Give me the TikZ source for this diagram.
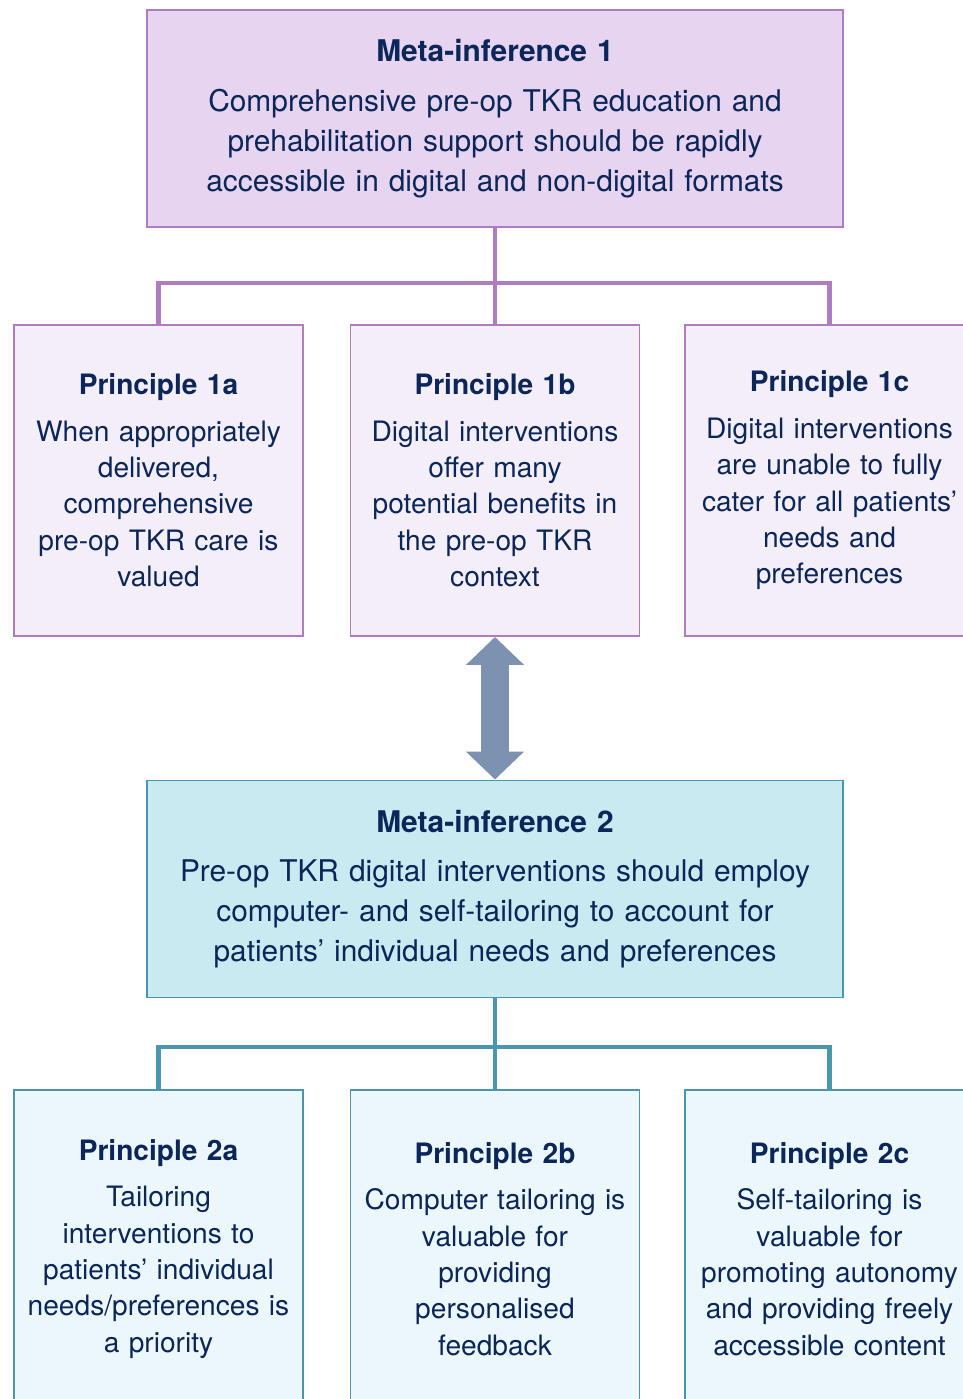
\documentclass[tikz,border=0pt]{standalone}
\usepackage{fontspec}
\setmainfont{TeX Gyre Heros}
\usepackage{xcolor}
\definecolor{navy}{HTML}{0B2659}
\definecolor{lila}{HTML}{B07CC0}
\definecolor{lilafill}{HTML}{E7D4F0}
\definecolor{lilalight}{HTML}{F4EEF9}
\definecolor{teal2}{HTML}{4A96AC}
\definecolor{tealfill}{HTML}{C8EAF0}
\definecolor{teallight}{HTML}{EBF7FA}
\definecolor{arrowc}{HTML}{7D91B1}
\usetikzlibrary{calc,positioning,arrows.meta}
\tikzset{
  meta/.style={rectangle, line width=1.1pt, text=navy, text width=13.6cm, align=center,
    minimum width=13.92cm, minimum height=4.34cm, inner sep=0pt,
    font=\fontsize{17}{22.7}\selectfont},
  meta1/.style={meta, draw=lila, fill=lilafill},
  meta2/.style={meta, draw=teal2, fill=tealfill},
  princ/.style={rectangle, line width=1.1pt, text=navy, text width=5.6cm, align=center,
    minimum width=5.78cm, inner sep=0pt, font=\fontsize{16}{20.7}\selectfont},
  princ1/.style={princ, draw=lila, fill=lilalight, minimum height=6.22cm},
  princ2/.style={princ, draw=teal2, fill=teallight, minimum height=6.36cm},
  tree1/.style={draw=lila, line width=2.4pt},
  tree2/.style={draw=teal2, line width=2.4pt},
  dbl/.style={draw=arrowc, line width=0.55cm,
    {Triangle[width=1.13cm,length=0.56cm]}-{Triangle[width=1.13cm,length=0.56cm]}},
}

\begin{document}
\begin{tikzpicture}
  \useasboundingbox (0,0) rectangle (19.24,-27.98);

  % first meta-inference and its principles
  \node[meta1] (M1) at (9.9,-2.37) {{\bfseries Meta-inference 1}\\[0.2cm]
    Comprehensive pre-op TKR education and\\ prehabilitation support should be rapidly\\
    accessible in digital and non-digital formats};
  \coordinate (j1) at (9.9,-5.66);
  \node[princ1] (P1a) at (3.17,-9.61) {{\bfseries Principle 1a}\\[0.2cm]
    When appropriately\\ delivered,\\ comprehensive\\ pre-op TKR care is\\ valued};
  \node[princ1] (P1b) at (9.9,-9.61) {{\bfseries Principle 1b}\\[0.2cm]
    Digital interventions\\ offer many\\ potential benefits in\\ the pre-op TKR\\ context};
  \node[princ1] (P1c) at (16.59,-9.61) {{\bfseries Principle 1c}\\[0.2cm]
    Digital interventions\\ are unable to fully\\ cater for all patients’\\ needs and\\ preferences};

  % second meta-inference and its principles
  \node[meta2] (M2) at (9.9,-17.78) {{\bfseries Meta-inference 2}\\[0.2cm]
    Pre-op TKR digital interventions should employ\\ computer- and self-tailoring to account for\\
    patients’ individual needs and preferences};
  \coordinate (j2) at (9.9,-20.94);
  \node[princ2] (P2a) at (3.17,-24.98) {{\bfseries Principle 2a}\\[0.2cm]
    Tailoring\\ interventions to\\ patients’ individual\\ needs/preferences is\\ a priority};
  \node[princ2] (P2b) at (9.9,-24.98) {{\bfseries Principle 2b}\\[0.2cm]
    Computer tailoring is\\ valuable for\\ providing\\ personalised\\ feedback};
  \node[princ2] (P2c) at (16.59,-24.98) {{\bfseries Principle 2c}\\[0.2cm]
    Self-tailoring is\\ valuable for\\ promoting autonomy\\ and providing freely\\ accessible content};

  % tree connectors
  \draw[tree1] (M1.south) -- (j1);
  \draw[tree1] (j1) -| (P1a.north);
  \draw[tree1] (j1) -- (P1b.north);
  \draw[tree1] (j1) -| (P1c.north);
  \draw[tree2] (M2.south) -- (j2);
  \draw[tree2] (j2) -| (P2a.north);
  \draw[tree2] (j2) -- (P2b.north);
  \draw[tree2] (j2) -| (P2c.north);

  % link between the two
  \draw[dbl] (P1b.south) -- (M2.north);
\end{tikzpicture}
\end{document}
